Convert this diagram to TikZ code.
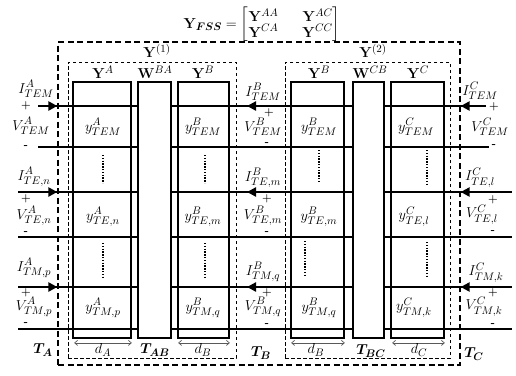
\documentclass[tikz,border=0pt]{standalone}
\usepackage{amsmath}
\usepackage{bm}
\usetikzlibrary{arrows.meta}
\DeclareMathSizes{15}{15}{11}{8.5}
\DeclareMathSizes{14}{14}{10.5}{8}
\begin{document}
\begin{tikzpicture}[x=1pt,y=-1pt,
  every node/.style={font=\fontsize{15}{16}\selectfont, inner sep=0pt},
  blk/.style={draw, line width=1.8pt, minimum height=256, inner sep=0pt},
  wblk/.style={blk, fill=white},
  outerbox/.style={draw, line width=1.3pt, dash pattern=on 6pt off 3.5pt, minimum width=402, minimum height=323},
  innerbox/.style={draw, line width=0.7pt, dash pattern=on 3.5pt off 2.5pt, minimum width=#1, minimum height=296},
  rowline/.style={line width=1.1pt},
  port/.style={line width=2.8pt, -{Triangle[length=9pt,width=9pt]}},
  dotcol/.style={line width=1.8pt, dash pattern=on 1.4pt off 1.4pt},
  dimarrow/.style={line width=0.7pt, gray!70!black, {Straight Barb[length=3pt,width=5pt]}-{Straight Barb[length=3pt,width=5pt]}},
  sign/.style={font=\fontsize{11}{11}\selectfont\bfseries},
]
\useasboundingbox (0,0) rectangle (516,375);

% title
\node[anchor=north, font=\fontsize{14}{15}\selectfont] (title) at (262,7) {\renewcommand{\arraystretch}{0.68}$\mathbf{Y}_{\bm{FSS}}=\begin{bmatrix}\mathbf{Y}^{AA} & \quad\mathbf{Y}^{AC}\\ \mathbf{Y}^{CA} & \quad\mathbf{Y}^{CC}\end{bmatrix}$};

% dashed enclosures
\node[outerbox] (FSS) at (259,203.5) {};
\node[innerbox=168] (S1) at (152,210) {};
\node[innerbox=165] (S2) at (367.5,210) {};
\node (Y1) at (157,51) {$\mathbf{Y}^{(1)}$};
\node (Y2) at (373,51) {$\mathbf{Y}^{(2)}$};

% row line ends
\coordinate (L1t) at (38,106);  \coordinate (R1t) at (486,106);
\coordinate (L1b) at (38,147);  \coordinate (R1b) at (489,147);
\coordinate (L2t) at (18,192);  \coordinate (R2t) at (512,192);
\coordinate (L2b) at (18,237);  \coordinate (R2b) at (512,237);
\coordinate (L3t) at (18,287);  \coordinate (R3t) at (512,287);
\coordinate (L3b) at (18,329);  \coordinate (R3b) at (512,329);
\foreach \r in {1t,1b,2t,2b,3t,3b} \draw[rowline] (L\r) -- (R\r);

% blocks
\node[blk, minimum width=58] (YA) at (102,210) {};
\node[wblk, minimum width=33] (WBA) at (154.5,210) {};
\node[blk, minimum width=51] (YB1) at (203.5,210) {};
\node[blk, minimum width=53] (YB2) at (317.5,210) {};
\node[wblk, minimum width=31] (WCB) at (368.5,210) {};
\node[blk, minimum width=53] (YC) at (417.5,210) {};

% block titles
\node (tYA) at (103,72) {$\mathbf{Y}^{A}$};
\node (tWBA) at (155,72) {$\mathbf{W}^{BA}$};
\node (tYB1) at (203,72) {$\mathbf{Y}^{B}$};
\node (tYB2) at (319,72) {$\mathbf{Y}^{B}$};
\node (tWCB) at (370,72) {$\mathbf{W}^{CB}$};
\node (tYC) at (418,72) {$\mathbf{Y}^{C}$};

% dotted continuation marks
\coordinate (dA1) at (103,155); \coordinate (dA1e) at (103,183);
\coordinate (dA2) at (103,243); \coordinate (dA2e) at (103,278);
\coordinate (dB1) at (205,155); \coordinate (dB1e) at (205,183);
\coordinate (dB2) at (205,243); \coordinate (dB2e) at (205,278);
\coordinate (dB3) at (319,150); \coordinate (dB3e) at (319,183);
\coordinate (dB4) at (305,241); \coordinate (dB4e) at (305,276);
\coordinate (dC1) at (427,150); \coordinate (dC1e) at (427,184);
\coordinate (dC2) at (427,242); \coordinate (dC2e) at (427,277);
\foreach \p in {A1,A2,B1,B2,B3,B4,C1,C2} \draw[dotcol] (d\p) -- (d\p e);

% cell labels
\node (cA1) at (103,127) {$y^{A}_{TEM}$};
\node (cA2) at (103,217) {$y^{A}_{TE,n}$};
\node (cA3) at (103,308) {$y^{A}_{TM,p}$};
\node (cB1) at (203,127) {$y^{B}_{TEM}$};
\node (cB2) at (203,217) {$y^{B}_{TE,m}$};
\node (cB3) at (203,308) {$y^{B}_{TM,q}$};
\node (cB4) at (319,127) {$y^{B}_{TEM}$};
\node (cB5) at (319,217) {$y^{B}_{TE,m}$};
\node (cB6) at (319,308) {$y^{B}_{TM,q}$};
\node (cC1) at (416,127) {$y^{C}_{TEM}$};
\node (cC2) at (414,217) {$y^{C}_{TE,l}$};
\node (cC3) at (414,308) {$y^{C}_{TM,k}$};

% port arrows
\draw[port] (L1t) -- (FSS.west |- L1t);
\coordinate (La2) at (38,192); \draw[port] (La2) -- (FSS.west |- La2);
\coordinate (La3) at (38,287); \draw[port] (La3) -- (FSS.west |- La3);
\coordinate (Ma1) at (279,106); \coordinate (Mb1) at (247,106); \draw[port] (Ma1) -- (Mb1);
\coordinate (Ma2) at (279,192); \coordinate (Mb2) at (247,192); \draw[port] (Ma2) -- (Mb2);
\coordinate (Ma3) at (279,287); \coordinate (Mb3) at (247,287); \draw[port] (Ma3) -- (Mb3);
\draw[port] (R1t) -- (FSS.east |- R1t);
\coordinate (Ra2) at (486,192); \draw[port] (Ra2) -- (FSS.east |- Ra2);
\coordinate (Ra3) at (486,287); \draw[port] (Ra3) -- (FSS.east |- Ra3);

% left port labels
\node (IA1) at (36,89) {$I^{A}_{TEM}$};
\node[sign] (pA1) at (26,106) {+};
\node (VA1) at (31,126) {$V^{A}_{TEM}$};
\node[sign] (mA1) at (26,147) {-};
\node (IA2) at (34,177) {$I^{A}_{TE,n}$};
\node[sign] (pA2) at (26,199) {+};
\node (VA2) at (34,216) {$V^{A}_{TE,n}$};
\node[sign] (mA2) at (26,233) {-};
\node (IA3) at (34,268) {$I^{A}_{TM,p}$};
\node[sign] (pA3) at (26,293) {+};
\node (VA3) at (34,307) {$V^{A}_{TM,p}$};
\node[sign] (mA3) at (26,324) {-};

% middle port labels
\node (IB1) at (263,92) {$I^{B}_{TEM}$};
\node[sign] (pB1) at (269,113) {+};
\node (VB1) at (263,127) {$V^{B}_{TEM}$};
\node[sign] (mB1) at (267,144) {-};
\node (IB2) at (263,178) {$I^{B}_{TE,m}$};
\node[sign] (pB2) at (267,199) {+};
\node (VB2) at (263,216) {$V^{B}_{TE,m}$};
\node[sign] (mB2) at (267,233) {-};
\node (IB3) at (263,272) {$I^{B}_{TM,q}$};
\node[sign] (pB3) at (267,293) {+};
\node (VB3) at (263,307) {$V^{B}_{TM,q}$};
\node[sign] (mB3) at (267,325) {-};

% right port labels
\node (IC1) at (480,91) {$I^{C}_{TEM}$};
\node[sign] (pC1) at (494,107) {+};
\node (VC1) at (490,127) {$V^{C}_{TEM}$};
\node[sign] (mC1) at (494,146) {-};
\node (IC2) at (480,178) {$I^{C}_{TE,l}$};
\node[sign] (pC2) at (493,200) {+};
\node (VC2) at (482,215) {$V^{C}_{TE,l}$};
\node[sign] (mC2) at (493,232) {-};
\node (IC3) at (486,273) {$I^{C}_{TM,k}$};
\node[sign] (pC3) at (493,293) {+};
\node (VC3) at (484,307) {$V^{C}_{TM,k}$};
\node[sign] (mC3) at (493,325) {-};

% widths
\draw[dimarrow] (YA.south west) ++(2,4) coordinate (dAs) -- (YA.south east |- dAs);
\draw[dimarrow] (YB1.south west) ++(1,4) coordinate (dBs) -- (YB1.south east |- dBs);
\draw[dimarrow] (YB2.south west) ++(1,4) coordinate (dB2s) -- (YB2.south east |- dB2s);
\draw[dimarrow] (YC.south west) ++(2,4) coordinate (dCs) -- (YC.south east |- dCs);
\node (ldA) at (103,350) {$d_{A}$};
\node (ldB1) at (203,350) {$d_{B}$};
\node (ldB2) at (316,350) {$d_{B}$};
\node (ldC) at (419,350) {$d_{C}$};

% terminal labels
\node (TA) at (43,350) {$\bm{T_{A}}$};
\node (TAB) at (155,350) {$\bm{T_{AB}}$};
\node (TB) at (261,353) {$\bm{T_{B}}$};
\node (TBC) at (371,351) {$\bm{T_{BC}}$};
\node (TC) at (474,354) {$\bm{T_{C}}$};
\end{tikzpicture}
\end{document}
